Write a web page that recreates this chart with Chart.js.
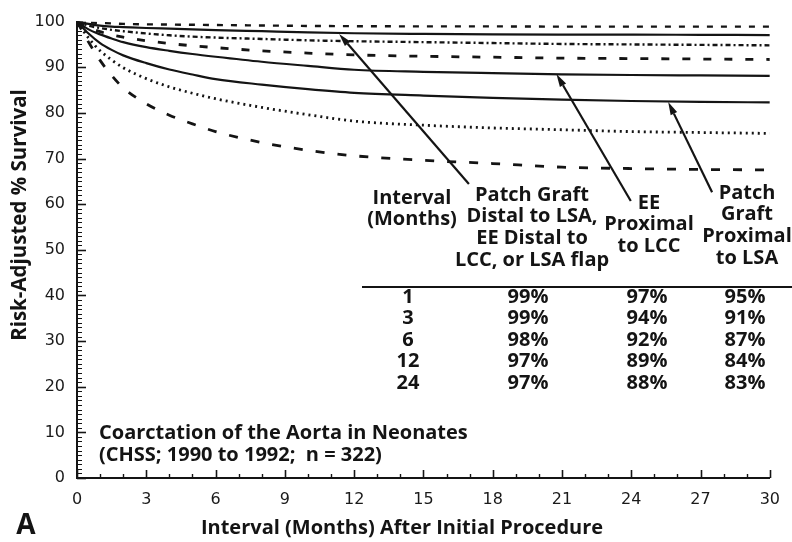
<!DOCTYPE html>
<html>
<head>
<meta charset="utf-8">
<script src="https://cdn.jsdelivr.net/npm/chart.js@4.4.1/dist/chart.umd.min.js"></script>
<style>
  html, body { margin: 0; padding: 0; background: #fff; }
  #wrap { width: 792px; height: 542px; }
</style>
</head>
<body>
<div id="wrap"><canvas id="c" width="792" height="542"></canvas></div>
<script>
// Months after the initial procedure at which each curve is sampled
const months = [0, 0.5, 1, 1.5, 2, 3, 4, 5, 6, 8, 10, 12, 15, 18, 21, 24, 27, 30];

// Patch graft distal to LSA, EE distal to LCC, or LSA flap (estimate and limits)
const distalUpper = [100, 99.8, 99.7, 99.6, 99.5, 99.4, 99.35, 99.3, 99.25, 99.15, 99.05, 99.0, 98.95, 98.95, 98.9, 98.9, 98.9, 98.9];
const distalEst   = [100, 99.5, 99.1, 98.9, 98.8, 98.6, 98.45, 98.3, 98.15, 97.9, 97.65, 97.45, 97.3, 97.2, 97.15, 97.15, 97.1, 97.05];
const distalLower = [100, 99.1, 98.6, 98.2, 97.9, 97.4, 97.0, 96.7, 96.5, 96.2, 95.9, 95.7, 95.5, 95.3, 95.1, 95.0, 94.9, 94.8];

// EE proximal to LCC
const eeLimit = [100, 98.7, 97.8, 97.1, 96.6, 95.8, 95.2, 94.7, 94.3, 93.6, 93.1, 92.7, 92.4, 92.2, 92.0, 91.9, 91.8, 91.7];
const eeEst   = [100, 98.3, 97.2, 96.3, 95.5, 94.4, 93.6, 92.9, 92.3, 91.2, 90.3, 89.45, 89.0, 88.7, 88.45, 88.3, 88.2, 88.1];

// Patch graft proximal to LSA
const proxEst    = [100, 97.4, 95.3, 93.8, 92.6, 90.9, 89.5, 88.4, 87.4, 86.2, 85.2, 84.4, 83.8, 83.3, 82.9, 82.6, 82.4, 82.3];
const proxLimitA = [100, 96.4, 93.6, 91.6, 89.9, 87.5, 85.7, 84.3, 83.1, 81.2, 79.6, 78.2, 77.3, 76.7, 76.3, 75.9, 75.7, 75.5];
const proxLimitB = [100, 95.5, 91.5, 88.2, 85.5, 82.0, 79.5, 77.6, 75.9, 73.5, 71.8, 70.6, 69.6, 68.9, 68.1, 67.8, 67.6, 67.5];

// Inset table
const tableIntervals = ['1', '3', '6', '12', '24'];
const tableDistal    = ['99%', '99%', '98%', '97%', '97%'];
const tableEE        = ['97%', '94%', '92%', '89%', '88%'];
const tableProx      = ['95%', '91%', '87%', '84%', '83%'];

// Axis ticks
const xTickValues = [0, 3, 6, 9, 12, 15, 18, 21, 24, 27, 30];
const yTickValues = [0, 10, 20, 30, 40, 50, 60, 70, 80, 90, 100];

const INK = '#141414';

function series(values) {
  return months.map((m, i) => ({ x: m, y: values[i] }));
}
function ds(values, dash, width) {
  return {
    data: series(values),
    borderColor: INK,
    borderWidth: width,
    borderDash: dash,
    pointRadius: 0,
    fill: false,
    cubicInterpolationMode: 'monotone'
  };
}

// Inward tick marks, arrows, table and captions
const decorations = {
  id: 'decorations',
  afterDraw(chart) {
    const ctx = chart.ctx;
    const xs = chart.scales.x, ys = chart.scales.y;
    const X = v => xs.getPixelForValue(v);
    const Y = v => ys.getPixelForValue(v);
    const left = chart.chartArea.left, bottom = chart.chartArea.bottom;

    ctx.save();
    ctx.strokeStyle = INK;
    ctx.fillStyle = INK;

    // y ticks pointing into the plot
    for (let v = 0; v <= 100; v++) {
      const len = v % 10 === 0 ? 9 : 5;
      ctx.lineWidth = v % 10 === 0 ? 1.6 : 1;
      ctx.beginPath();
      ctx.moveTo(left, Math.round(Y(v)) + 0.5);
      ctx.lineTo(left + len, Math.round(Y(v)) + 0.5);
      ctx.stroke();
    }
    // x ticks pointing up
    for (let m = 0; m <= 30; m++) {
      const len = m % 3 === 0 ? 8 : 4;
      ctx.lineWidth = m % 3 === 0 ? 1.6 : 1.4;
      ctx.beginPath();
      ctx.moveTo(Math.round(X(m)) + 0.5, bottom);
      ctx.lineTo(Math.round(X(m)) + 0.5, bottom - len);
      ctx.stroke();
    }

    // arrows from the table headings to their curves
    const arrows = [
      { from: [16.97, 64.4], to: [11.35, 97.3] },
      { from: [23.98, 60.7], to: [20.76, 88.5] },
      { from: [27.5, 62.6],  to: [25.6, 82.4] }
    ];
    arrows.forEach(a => {
      const x1 = X(a.from[0]), y1 = Y(a.from[1]);
      const x2 = X(a.to[0]), y2 = Y(a.to[1]);
      const ang = Math.atan2(y2 - y1, x2 - x1);
      const headLen = 13, headHalf = 3.6;
      const bx = x2 - headLen * Math.cos(ang), by = y2 - headLen * Math.sin(ang);
      ctx.lineWidth = 2.2;
      ctx.beginPath();
      ctx.moveTo(x1, y1);
      ctx.lineTo(bx, by);
      ctx.stroke();
      ctx.beginPath();
      ctx.moveTo(x2, y2);
      ctx.lineTo(bx + headHalf * Math.sin(ang), by - headHalf * Math.cos(ang));
      ctx.lineTo(bx - headHalf * Math.sin(ang), by + headHalf * Math.cos(ang));
      ctx.closePath();
      ctx.fill();
    });

    // table headings
    ctx.textAlign = 'center';
    ctx.textBaseline = 'middle';
    ctx.font = '700 20px "Open Sans"';
    const head = [
      { x: 412, lines: ['Interval', '(Months)'], y0: 198 },
      { x: 532, lines: ['Patch Graft', 'Distal to LSA,', 'EE Distal to', 'LCC, or LSA flap'], y0: 195 },
      { x: 649, lines: ['EE', 'Proximal', 'to LCC'], y0: 203 },
      { x: 747, lines: ['Patch', 'Graft', 'Proximal', 'to LSA'], y0: 193 }
    ];
    head.forEach(h => h.lines.forEach((t, i) => ctx.fillText(t, h.x, h.y0 + i * 21.6)));

    // rule under the headings
    ctx.lineWidth = 2;
    ctx.beginPath();
    ctx.moveTo(362, 287);
    ctx.lineTo(792, 287);
    ctx.stroke();

    // table rows
    const rowY = [297, 318.5, 340, 361.5, 383];
    tableIntervals.forEach((t, i) => {
      ctx.fillText(t, 408, rowY[i]);
      ctx.fillText(tableDistal[i], 528, rowY[i]);
      ctx.fillText(tableEE[i], 647, rowY[i]);
      ctx.fillText(tableProx[i], 745, rowY[i]);
    });

    // study caption
    ctx.textAlign = 'left';
    ctx.font = '700 20px "Open Sans"';
    ctx.fillText('Coarctation of the Aorta in Neonates', 99, 433);
    ctx.fillText('(CHSS; 1990 to 1992;  n = 322)', 99, 455);

    // axis titles
    ctx.textAlign = 'center';
    ctx.font = '700 20px "Open Sans"';
    ctx.fillText('Interval (Months) After Initial Procedure', 402, 528);
    ctx.save();
    ctx.translate(20, 215);
    ctx.rotate(-Math.PI / 2);
    ctx.font = '700 20.5px "Open Sans"';
    ctx.fillText('Risk-Adjusted % Survival', 0, 0);
    ctx.restore();

    // panel letter
    ctx.font = '700 28px "Open Sans"';
    ctx.fillText('A', 26, 526);

    ctx.restore();
  }
};

new Chart(document.getElementById('c'), {
  type: 'line',
  data: {
    datasets: [
      ds(distalUpper, [6, 8], 2.4),
      ds(distalEst, [], 2.2),
      ds(distalLower, [5, 3, 2, 3], 2.4),
      ds(eeLimit, [8, 13], 2.8),
      ds(eeEst, [], 2.2),
      ds(proxEst, [], 2.2),
      ds(proxLimitA, [2, 4], 2.8),
      ds(proxLimitB, [9, 13], 2.8)
    ]
  },
  options: {
    responsive: false,
    animation: false,
    events: [],
    layout: { padding: { top: 15, right: 15, left: 0, bottom: 0 } },
    plugins: { legend: { display: false }, tooltip: { enabled: false } },
    scales: {
      x: {
        type: 'linear',
        min: 0,
        max: 30,
        afterFit: s => { s.height = 64; },
        afterBuildTicks: s => { s.ticks = xTickValues.map(v => ({ value: v })); },
        grid: { display: false, drawTicks: false },
        border: { display: true, color: INK, width: 2 },
        ticks: {
          padding: 12,
          color: '#1a1a1a',
          font: { family: 'DejaVu Sans', size: 16 },
          maxRotation: 0
        }
      },
      y: {
        min: 0,
        max: 100,
        afterFit: s => { s.width = 77; },
        afterBuildTicks: s => { s.ticks = yTickValues.map(v => ({ value: v })); },
        grid: { display: false, drawTicks: false },
        border: { display: true, color: INK, width: 2 },
        ticks: {
          padding: 12,
          color: '#1a1a1a',
          font: { family: 'DejaVu Sans', size: 16 }
        }
      }
    }
  },
  plugins: [decorations]
});
</script>
</body>
</html>
